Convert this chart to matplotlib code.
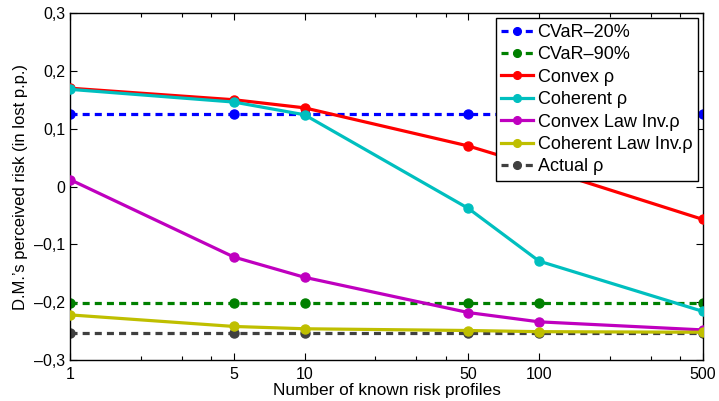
import matplotlib
matplotlib.use("Agg")
import matplotlib.pyplot as plt
from matplotlib.ticker import FixedLocator, FuncFormatter, NullFormatter

plt.rcParams['font.family'] = ['Liberation Sans', 'DejaVu Sans']

x = [1, 5, 10, 50, 100, 500]
cvar20 = [0.126, 0.126, 0.126, 0.126, 0.126, 0.126]
cvar90 = [-0.201, -0.201, -0.201, -0.201, -0.201, -0.201]
convex = [0.170, 0.150, 0.136, 0.070, 0.033, -0.057]
coherent = [0.168, 0.146, 0.124, -0.038, -0.129, -0.216]
convex_li = [0.012, -0.122, -0.157, -0.218, -0.234, -0.248]
coherent_li = [-0.222, -0.242, -0.246, -0.249, -0.251, -0.252]
actual = [-0.253, -0.253, -0.253, -0.253, -0.253, -0.253]

labels = ['CVaR\u201320%', 'CVaR\u201390%', 'Convex \u03c1', 'Coherent \u03c1',
          'Convex Law Inv.\u03c1', 'Coherent Law Inv.\u03c1', 'Actual \u03c1']
colors = ['#0000ff', '#008000', '#ff0000', '#00bfbf', '#bf00bf', '#bfbf00', '#404040']
series = [cvar20, cvar90, convex, coherent, convex_li, coherent_li, actual]
dashed = [True, True, False, False, False, False, True]

xticks = [1, 5, 10, 50, 100, 500]
xminor = [2, 3, 4, 20, 30, 40, 200, 300, 400]
yticks = [-0.3, -0.2, -0.1, 0, 0.1, 0.2, 0.3]

fig = plt.figure(figsize=(7.19, 4.01), dpi=100)
ax = fig.add_axes([70/719, 41/401, 633/719, 347/401])

for i in range(len(series)):
    ls = (0, (2.2, 1.6)) if dashed[i] else '-'
    ax.plot(x, series[i], color=colors[i], lw=2.3, linestyle=ls, marker='o',
            markersize=6.5, label=labels[i], zorder=3 if not dashed[i] else 2.5)

ax.set_xscale('log')
ax.set_xlim(1, 500)
ax.set_ylim(-0.3, 0.3)
ax.xaxis.set_major_locator(FixedLocator(xticks))
ax.xaxis.set_minor_locator(FixedLocator(xminor))
ax.xaxis.set_major_formatter(FuncFormatter(lambda v, p: '%g' % v))
ax.xaxis.set_minor_formatter(NullFormatter())
ax.set_yticks(yticks)

def yfmt(v, p):
    if abs(v) < 1e-9:
        return '0'
    s = ('%.1f' % abs(v)).replace('.', ',')
    return ('\u2013' + s) if v < 0 else s
ax.yaxis.set_major_formatter(FuncFormatter(yfmt))

ax.tick_params(which='both', direction='in', top=True, right=True, labelsize=11.5,
               width=0.8, color='black')
ax.tick_params(which='major', length=5)
ax.tick_params(which='minor', length=3)
ax.tick_params(axis='x', pad=5)
for s in ax.spines.values():
    s.set_linewidth(1.0)

ax.set_xlabel('Number of known risk profiles', fontsize=12.4, labelpad=1)
ax.set_ylabel('D.M.\u2019s perceived risk (in lost p.p.)', fontsize=12, labelpad=4)

leg = ax.legend(loc='upper right', fontsize=13, handlelength=1.75, handletextpad=0.25,
                borderpad=0.3, labelspacing=0.3, borderaxespad=0.3, fancybox=False,
                framealpha=1, edgecolor='black', markerscale=0.85)
leg.get_frame().set_linewidth(1.0)

fig.savefig('out.png', dpi=100)
